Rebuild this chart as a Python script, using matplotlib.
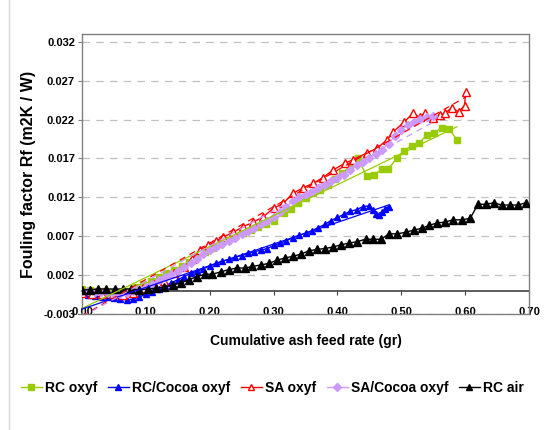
import numpy as np
import matplotlib
matplotlib.use("Agg")
import matplotlib.pyplot as plt
from matplotlib.lines import Line2D

plt.rcParams['font.family'] = ['Liberation Sans', 'DejaVu Sans']
plt.rcParams['font.weight'] = 'bold'
plt.rcParams['axes.labelweight'] = 'bold'

# RC oxyf (green squares)
rc_x = [0.000, 0.012, 0.024, 0.036, 0.048, 0.060, 0.072, 0.084, 0.096, 0.108,
        0.120, 0.132, 0.144, 0.156, 0.168, 0.180, 0.192, 0.204, 0.216, 0.228,
        0.240, 0.252, 0.264, 0.276, 0.288, 0.300, 0.316, 0.327, 0.338, 0.350,
        0.362, 0.373, 0.385, 0.396, 0.407, 0.420, 0.432, 0.446, 0.457, 0.470,
        0.479, 0.493, 0.504, 0.516, 0.528, 0.540, 0.551, 0.564, 0.575, 0.587]
rc_y = [0.0002, 0.0001, 0.0000, -0.0001, -0.0002, -0.0003, 0.0000, 0.0004, 0.0008, 0.0012,
        0.0017, 0.0022, 0.0027, 0.0032, 0.0037, 0.0043, 0.0050, 0.0055, 0.0060, 0.0065,
        0.0070, 0.0074, 0.0078, 0.0082, 0.0086, 0.0090, 0.0100, 0.0105, 0.0113, 0.0119,
        0.0125, 0.0130, 0.0136, 0.0143, 0.0151, 0.0160, 0.0170, 0.0147, 0.0149, 0.0156,
        0.0156, 0.0170, 0.0180, 0.0186, 0.0190, 0.0200, 0.0203, 0.0209, 0.0208, 0.0194]

# RC/Cocoa oxyf (blue triangles)
rcc_x = [0.00, 0.01, 0.02, 0.03, 0.04, 0.05, 0.06, 0.07, 0.08, 0.09,
         0.10, 0.11, 0.12, 0.13, 0.14, 0.15, 0.16, 0.17, 0.18, 0.19,
         0.20, 0.21, 0.22, 0.23, 0.24, 0.25, 0.26, 0.27, 0.28, 0.29,
         0.30, 0.31, 0.32, 0.33, 0.34, 0.35, 0.36, 0.37, 0.38, 0.39,
         0.40, 0.41, 0.42, 0.43, 0.44, 0.45, 0.455, 0.46, 0.465, 0.47,
         0.475, 0.48]
rcc_y = [-0.0002, -0.0006, -0.0007, -0.0008, -0.0008, -0.0009, -0.0011, -0.0012, -0.0011, -0.0008,
         -0.0005, -0.0002, 0.0002, 0.0006, 0.0010, 0.0014, 0.0018, 0.0022, 0.0025, 0.0028,
         0.0032, 0.0035, 0.0038, 0.0040, 0.0043, 0.0045, 0.0048, 0.0050, 0.0052, 0.0054,
         0.0058, 0.0061, 0.0064, 0.0068, 0.0071, 0.0074, 0.0077, 0.0081, 0.0085, 0.0090,
         0.0094, 0.0098, 0.0102, 0.0104, 0.0108, 0.0109, 0.0104, 0.0098, 0.0097, 0.0101,
         0.0105, 0.0108]

# SA oxyf (red open triangles)
sa_x = [0.000, 0.016, 0.032, 0.048, 0.064, 0.080, 0.096, 0.112, 0.128, 0.144,
        0.160, 0.172, 0.185, 0.198, 0.210, 0.221, 0.237, 0.252, 0.268, 0.284,
        0.300, 0.315, 0.330, 0.346, 0.362, 0.377, 0.393, 0.412, 0.424, 0.446,
        0.462, 0.478, 0.487, 0.505, 0.518, 0.529, 0.537, 0.550, 0.560, 0.568,
        0.579, 0.590, 0.599, 0.601]
sa_y = [-0.0003, -0.0004, -0.0004, -0.0005, -0.0006, -0.0003, 0.0003, 0.0008, 0.0012, 0.0022,
        0.0030, 0.0041, 0.0052, 0.0058, 0.0064, 0.0069, 0.0075, 0.0082, 0.0088, 0.0095,
        0.0106, 0.0112, 0.0125, 0.0132, 0.0138, 0.0145, 0.0155, 0.0164, 0.0168, 0.0177,
        0.0183, 0.0194, 0.0204, 0.0217, 0.0228, 0.0223, 0.0228, 0.0222, 0.0226, 0.0228,
        0.0235, 0.0230, 0.0238, 0.0255]

# SA/Cocoa oxyf (purple diamonds)
sac_x = [0.00, 0.01, 0.02, 0.03, 0.04, 0.05, 0.06, 0.07, 0.08, 0.09,
         0.10, 0.11, 0.12, 0.13, 0.14, 0.15, 0.16, 0.17, 0.18, 0.19,
         0.20, 0.21, 0.22, 0.23, 0.24, 0.25, 0.26, 0.27, 0.28, 0.29,
         0.30, 0.31, 0.32, 0.33, 0.34, 0.35, 0.36, 0.37, 0.38, 0.39,
         0.40, 0.41, 0.42, 0.43, 0.44, 0.45, 0.46, 0.47, 0.48, 0.49,
         0.50, 0.51, 0.52, 0.53, 0.54, 0.55]
sac_y = [0.0000, -0.0001, -0.0002, -0.0002, -0.0003, -0.0004, -0.0004, -0.0003, -0.0001, 0.0002,
         0.0005, 0.0009, 0.0013, 0.0017, 0.0021, 0.0025, 0.0030, 0.0035, 0.0041, 0.0047,
         0.0052, 0.0056, 0.0060, 0.0064, 0.0068, 0.0073, 0.0077, 0.0081, 0.0085, 0.0090,
         0.0095, 0.0101, 0.0108, 0.0115, 0.0120, 0.0123, 0.0127, 0.0132, 0.0136, 0.0141,
         0.0145, 0.0149, 0.0155, 0.0161, 0.0166, 0.0171, 0.0176, 0.0181, 0.0189, 0.0199,
         0.0207, 0.0213, 0.0217, 0.0221, 0.0223, 0.0224]

# RC air (black triangles)
air_x = [0.000, 0.013, 0.025, 0.038, 0.051, 0.064, 0.077, 0.090, 0.103, 0.116,
         0.129, 0.142, 0.155, 0.168, 0.180, 0.192, 0.204, 0.217, 0.230, 0.242,
         0.255, 0.267, 0.280, 0.293, 0.305, 0.318, 0.330, 0.343, 0.355, 0.368,
         0.380, 0.393, 0.406, 0.418, 0.431, 0.444, 0.456, 0.468, 0.481, 0.494,
         0.507, 0.520, 0.532, 0.544, 0.556, 0.568, 0.581, 0.595, 0.608, 0.620,
         0.633, 0.645, 0.657, 0.670, 0.683, 0.695]
air_y = [0.0001, 0.0001, 0.0002, 0.0002, 0.0002, 0.0002, 0.0002, 0.0001, 0.0002, 0.0003,
         0.0005, 0.0007, 0.0010, 0.0014, 0.0018, 0.0021, 0.0021, 0.0024, 0.0027, 0.0029,
         0.0029, 0.0031, 0.0033, 0.0035, 0.0039, 0.0042, 0.0044, 0.0047, 0.0051, 0.0053,
         0.0054, 0.0056, 0.0059, 0.0061, 0.0063, 0.0066, 0.0066, 0.0066, 0.0073, 0.0073,
         0.0075, 0.0078, 0.0080, 0.0084, 0.0087, 0.0088, 0.0091, 0.0091, 0.0093, 0.0111,
         0.0111, 0.0113, 0.0110, 0.0110, 0.0110, 0.0113]

x_ticks = [0.0, 0.1, 0.2, 0.3, 0.4, 0.5, 0.6, 0.7]
y_ticks = [-0.003, 0.002, 0.007, 0.012, 0.017, 0.022, 0.027, 0.032]

fig = plt.figure(figsize=(5.45, 4.3), dpi=100)
ax = fig.add_axes([82 / 545, 1 - 313.9 / 430, 447 / 545, 279.9 / 430])

green = '#99CC00'
blue = '#0000FF'
red = '#FF0000'
purple = '#CC99FF'

ax.plot(rc_x, rc_y, color=green, lw=1, marker='s', ms=5, label='RC oxyf', zorder=3)
ax.plot(rcc_x, rcc_y, color=blue, lw=1, marker='^', ms=5, label='RC/Cocoa oxyf', zorder=3)
ax.plot(sa_x, sa_y, color=red, lw=1, marker='^', ms=5.5, mfc='white', mec=red,
        mew=1, label='SA oxyf', zorder=3)
ax.plot(sac_x, sac_y, color=purple, lw=1, marker='D', ms=4.5, label='SA/Cocoa oxyf', zorder=3)
ax.plot(air_x, air_y, color='black', lw=1, marker='^', ms=5.5, label='RC air', zorder=4)

# linear trendlines
for xs, ys, c, ls in [(rc_x, rc_y, green, '-'), (rcc_x, rcc_y, blue, '-'),
                      (sa_x, sa_y, red, (0, (5, 4))), (sac_x, sac_y, purple, (0, (5, 4)))]:
    k, b = np.polyfit(xs, ys, 1)
    xx = np.array([min(xs), max(xs)])
    ax.plot(xx, k * xx + b, color=c, lw=0.9, ls=ls, zorder=5)

ax.set_xlim(0, 0.7)
ax.set_ylim(-0.003, 0.033)
ax.set_xticks(x_ticks)
ax.set_xticklabels(['%.2f' % v for v in x_ticks])
ax.set_yticks(y_ticks)
ax.set_yticklabels(['%.3f' % v for v in y_ticks])
ax.tick_params(axis='x', length=0, labelsize=8, pad=-5)
ax.tick_params(axis='y', length=3, direction='out', labelsize=8, color='#808080', pad=2)
ax.grid(axis='y', color='#C0C0C0', ls=(0, (6, 5)), lw=0.9)
ax.set_axisbelow(True)
for s in ax.spines.values():
    s.set_color('#808080')
    s.set_linewidth(1)

# x axis crossing at y = 0
pos0 = (0 - (-0.003)) / (0.033 - (-0.003))
sec = ax.secondary_xaxis(pos0)
sec.set_xticks(x_ticks)
sec.set_xticklabels([])
sec.tick_params(direction='out', length=3, color='#404040')
sec.spines['bottom'].set_color('#404040')
sec.spines['bottom'].set_linewidth(1.2)

ax.set_ylabel('Fouling factor Rf (m2K / W)', fontsize=11.5, labelpad=5)
ax.set_xlabel('Cumulative ash feed rate (gr)', fontsize=10, labelpad=12)

fig.legend(loc='center', bbox_to_anchor=(0.5, 1 - 388 / 430), ncol=5, frameon=False,
           fontsize=10, handlelength=1.5, handletextpad=0.25, columnspacing=0.75,
           markerscale=0.8)

fig.add_artist(Line2D([9 / 545, 9 / 545], [0, 1], color='#D8D8D8', lw=1))

fig.savefig('out.png', dpi=100)
